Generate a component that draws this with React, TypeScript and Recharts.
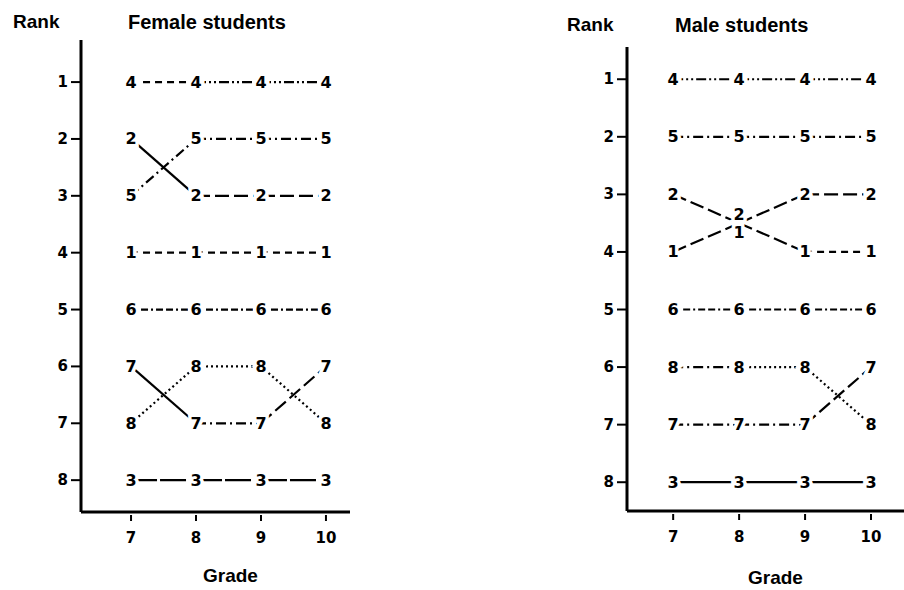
import { LineChart, Line, XAxis, YAxis } from "recharts";

const grades = [7, 8, 9, 10];
const rankTicks = [1, 2, 3, 4, 5, 6, 7, 8];
const groups = ["1", "2", "3", "4", "5", "6", "7", "8"];

// rank held by each group (1..8) at grades 7, 8, 9, 10
const femaleRanks = [
  [4, 4, 4, 4],
  [2, 3, 3, 3],
  [8, 8, 8, 8],
  [1, 1, 1, 1],
  [3, 2, 2, 2],
  [5, 5, 5, 5],
  [6, 7, 7, 6],
  [7, 6, 6, 7],
];

const maleRanks = [
  [4, 3.5, 4, 4],
  [3, 3.5, 3, 3],
  [8, 8, 8, 8],
  [1, 1, 1, 1],
  [2, 2, 2, 2],
  [5, 5, 5, 5],
  [7, 7, 7, 6],
  [6, 6, 6, 7],
];

// line patterns, one per segment (7-8, 8-9, 9-10)
const SOLID = undefined;
const DASH = "7 5";
const LONG = "14 5";
const DOT = "2 3";
const DASH_DOT = "10 4 2 4";
const DASH_DOT_DOT = "10 3 2 3 2 3";
const DASH_DASH_DOT = "7 3 7 3 2 3";
const NEAR_SOLID = "26 3";

const femaleDashes = [
  [DASH, DASH, DASH],
  [SOLID, LONG, LONG],
  [NEAR_SOLID, NEAR_SOLID, NEAR_SOLID],
  [DASH, DASH_DOT_DOT, DASH_DOT_DOT],
  [DASH_DOT, DASH_DOT, DASH_DOT],
  [DASH_DASH_DOT, DASH_DASH_DOT, DASH_DASH_DOT],
  [SOLID, DASH_DOT, LONG],
  [DOT, DOT, DOT],
];

const maleDashes = [
  [LONG, LONG, DASH],
  [LONG, LONG, LONG],
  [SOLID, SOLID, SOLID],
  [DASH_DOT_DOT, DASH_DOT_DOT, DASH_DOT_DOT],
  [DASH_DOT, DASH_DOT, DASH_DOT],
  [DASH_DASH_DOT, DASH_DASH_DOT, DASH_DASH_DOT],
  [DASH_DOT, DASH_DOT, LONG],
  [DASH_DOT, DOT, DOT],
];

const FONT = "'Liberation Sans', Arial, sans-serif";
const DIGIT_FONT = "'DejaVu Sans', sans-serif";

const XTick = ({ x, y, payload }: any) => (
  <g>
    <line x1={x} x2={x} y1={y + 3} y2={y + 9} stroke="#000" strokeWidth={2} />
    <text x={x} y={y + 26} textAnchor="middle" dominantBaseline="central" fontFamily={DIGIT_FONT} fontWeight="bold" fontSize={15} fill="#000">
      {payload.value}
    </text>
  </g>
);

const YTick = ({ x, y, payload }: any) => (
  <g>
    <line x1={x - 10} x2={x} y1={y} y2={y} stroke="#000" strokeWidth={2} />
    <text x={x - 13} y={y} textAnchor="end" dominantBaseline="central" fontFamily={DIGIT_FONT} fontWeight="bold" fontSize={15} fill="#000">
      {payload.value}
    </text>
  </g>
);

function Panel({ ranks, dashes, width, margin, xDomain, yDomain }: any) {
  const rows = grades.map((g, i) => {
    const row: any = { grade: g, i };
    groups.forEach((s, k) => (row[s] = ranks[k][i]));
    return row;
  });

  const labelDot = (k: number) => (props: any) => {
    const { cx, cy, index } = props;
    const v = ranks[k][index];
    let dy = 0;
    if (v % 1 !== 0 && index > 0) dy = ranks[k][index - 1] < v ? -9 : 9;
    return (
      <text
        key={`lbl-${k}-${index}`}
        x={cx}
        y={cy + dy}
        textAnchor="middle"
        dominantBaseline="central"
        fontFamily={DIGIT_FONT}
        fontWeight="bold"
        fontSize={16}
        fill="#000"
        stroke="#fff"
        strokeWidth={7}
        paintOrder="stroke"
      >
        {groups[k]}
      </text>
    );
  };

  return (
    <LineChart width={width} height={590} data={rows} margin={margin}>
      <XAxis
        dataKey="grade"
        type="number"
        domain={xDomain}
        ticks={grades}
        allowDataOverflow
        height={30}
        tickSize={0}
        tickMargin={0}
        tickLine={false}
        tick={<XTick />}
        axisLine={{ stroke: "#000", strokeWidth: 3 }}
      />
      <YAxis
        type="number"
        reversed
        domain={yDomain}
        ticks={rankTicks}
        allowDataOverflow
        width={81}
        tickSize={0}
        tickMargin={0}
        tickLine={false}
        tick={<YTick />}
        axisLine={{ stroke: "#000", strokeWidth: 3 }}
      />
      {groups.map((s, k) =>
        [0, 1, 2].map((j) => (
          <Line
            key={`seg-${s}-${j}`}
            dataKey={(r: any) => (r.i === j || r.i === j + 1 ? r[s] : null)}
            stroke="#000"
            strokeWidth={2.2}
            strokeDasharray={dashes[k][j]}
            dot={false}
            activeDot={false}
            isAnimationActive={false}
            type="linear"
          />
        ))
      )}
      {groups.map((s, k) => (
        <Line
          key={`lbl-${s}`}
          dataKey={s}
          stroke="none"
          dot={labelDot(k)}
          activeDot={false}
          isAnimationActive={false}
        />
      ))}
    </LineChart>
  );
}

const textStyle = (left: number, top: number, size: number): any => ({
  position: "absolute",
  left,
  top,
  fontFamily: FONT,
  fontWeight: "bold",
  fontSize: size,
  lineHeight: "24px",
  color: "#000",
  whiteSpace: "nowrap",
});

export default function App() {
  return (
    <div style={{ position: "absolute", left: 0, top: 0, width: 904, height: 590, background: "#fff", overflow: "hidden" }}>
      <div style={{ position: "absolute", left: 0, top: 0 }}>
        <Panel
          ranks={femaleRanks}
          dashes={femaleDashes}
          width={360}
          margin={{ top: 40, right: 10, bottom: 48, left: 0 }}
          xDomain={[6.23, 10.37]}
          yDomain={[0.26, 8.56]}
        />
      </div>
      <div style={{ position: "absolute", left: 546, top: 0 }}>
        <Panel
          ranks={maleRanks}
          dashes={maleDashes}
          width={358}
          margin={{ top: 47, right: 0, bottom: 49, left: 0 }}
          xDomain={[6.3, 10.5]}
          yDomain={[0.44, 8.5]}
        />
      </div>
      <div style={textStyle(13, 10, 19)}>Rank</div>
      <div style={textStyle(128, 10, 20)}>Female students</div>
      <div style={textStyle(203, 564, 19)}>Grade</div>
      <div style={textStyle(567, 13, 19)}>Rank</div>
      <div style={textStyle(675, 13, 20)}>Male students</div>
      <div style={textStyle(748, 566, 19)}>Grade</div>
    </div>
  );
}
